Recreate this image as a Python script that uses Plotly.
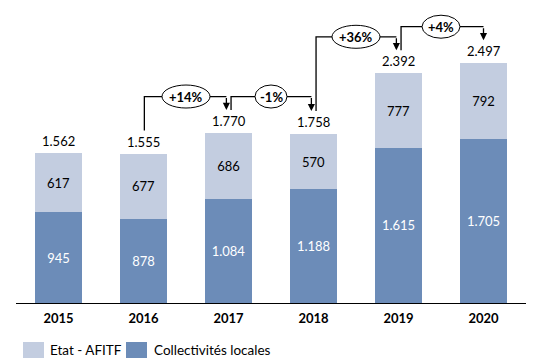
import plotly.graph_objects as go

years = ["2015", "2016", "2017", "2018", "2019", "2020"]
collectivites = [945, 878, 1084, 1188, 1615, 1705]
etat = [617, 677, 686, 570, 777, 792]
totals = [a + b for a, b in zip(collectivites, etat)]

# comparisons drawn as brackets: (from index, to index)
pairs = [(1, 2), (2, 3), (3, 4), (4, 5)]

LIGHT = "#C3CDE0"
DARK = "#6C8CB8"
FONT = "Lato"

def fmt(v):
    return f"{v:,}".replace(",", ".")

xs = list(range(len(years)))

fig = go.Figure()
fig.add_trace(go.Bar(
    x=xs, y=collectivites, name="Collectivités locales",
    marker=dict(color=DARK, line=dict(width=0)),
    text=[fmt(v) for v in collectivites], textposition="inside",
    insidetextanchor="middle",
    textfont=dict(color="white", size=13, family=FONT),
    width=0.55, showlegend=False, hoverinfo="skip",
))
fig.add_trace(go.Bar(
    x=xs, y=etat, name="Etat - AFITF",
    marker=dict(color=LIGHT, line=dict(width=0)),
    text=[fmt(v) for v in etat], textposition="inside",
    insidetextanchor="middle",
    textfont=dict(color="black", size=13, family=FONT),
    width=0.55, showlegend=False, hoverinfo="skip",
))

annotations = []
shapes = []
for i, t in enumerate(totals):
    annotations.append(dict(x=i, y=t, text=fmt(t), showarrow=False,
                            yanchor="bottom", yshift=2,
                            font=dict(size=13, family=FONT, color="black")))

ellipse_w = [48, 32, 48, 38]
LEVEL_OFF = 380
END_OFF = 240
for k, (a, b) in enumerate(pairs):
    pct = round((totals[b] / totals[a] - 1) * 100)
    label = f"{pct:+d}%"
    level = max(totals[a], totals[b]) + LEVEL_OFF
    xa = a + (0.03 if a > 1 else 0.01)
    xb = b - (0.025 if b < 5 else 0.0)
    ya = totals[a] + END_OFF
    yb = totals[b] + END_OFF
    shapes.append(dict(type="path", xref="x", yref="y",
                       path=f"M {xa},{ya} L {xa},{level} L {xb},{level}",
                       line=dict(color="black", width=1.3)))
    annotations.append(dict(x=xb, y=yb, ax=xb, ay=level, axref="x", ayref="y",
                            xref="x", yref="y", showarrow=True, arrowhead=2,
                            arrowsize=1.1, arrowwidth=1.3, arrowcolor="black",
                            standoff=0, startstandoff=0, text=""))
    mid = (a + b) / 2
    w = ellipse_w[k]
    shapes.append(dict(type="circle", xref="x", yref="y", xsizemode="pixel",
                       ysizemode="pixel", xanchor=mid, yanchor=level,
                       x0=-w / 2, x1=w / 2, y0=-11.5, y1=11.5,
                       fillcolor="white", line=dict(color="black", width=1),
                       layer="above"))
    annotations.append(dict(x=mid, y=level, text=f"<b>{label}</b>", showarrow=False,
                            font=dict(size=13, family=FONT, color="black")))

# legend
legend_items = [("Etat - AFITF", LIGHT, 23, 48), ("Collectivités locales", DARK, 126, 152)]
for name, col, sx, tx in legend_items:
    shapes.append(dict(type="rect", xref="paper", yref="paper",
                       x0=(sx - 16) / 510, x1=(sx + 21 - 16) / 510,
                       y0=(303 - 358) / 293, y1=(303 - 342) / 293,
                       fillcolor=col, line=dict(width=0)))
    annotations.append(dict(xref="paper", yref="paper", x=(tx - 16) / 510,
                            y=(303 - 350) / 293, text=name, showarrow=False,
                            xanchor="left", yanchor="middle",
                            font=dict(size=13.5, family=FONT, color="black")))

fig.update_layout(
    barmode="stack",
    width=540, height=363,
    margin=dict(l=16, r=14, t=10, b=60),
    plot_bgcolor="white", paper_bgcolor="white",
    font=dict(family=FONT, color="black"),
    xaxis=dict(tickvals=xs, ticktext=years, range=[-0.5, 5.5],
               showline=True, linecolor="black", linewidth=1.3,
               showgrid=False, zeroline=False, ticks="",
               tickfont=dict(size=13, family=FONT, weight="bold", color="black"),
               ticklabelstandoff=3),
    yaxis=dict(range=[0, 3051], visible=False, showgrid=False, zeroline=False),
    shapes=shapes, annotations=annotations,
    showlegend=False,
)

fig.write_html("out.html", config={"displayModeBar": False},
               post_script="document.body.style.margin='0';document.body.style.overflow='hidden';")
